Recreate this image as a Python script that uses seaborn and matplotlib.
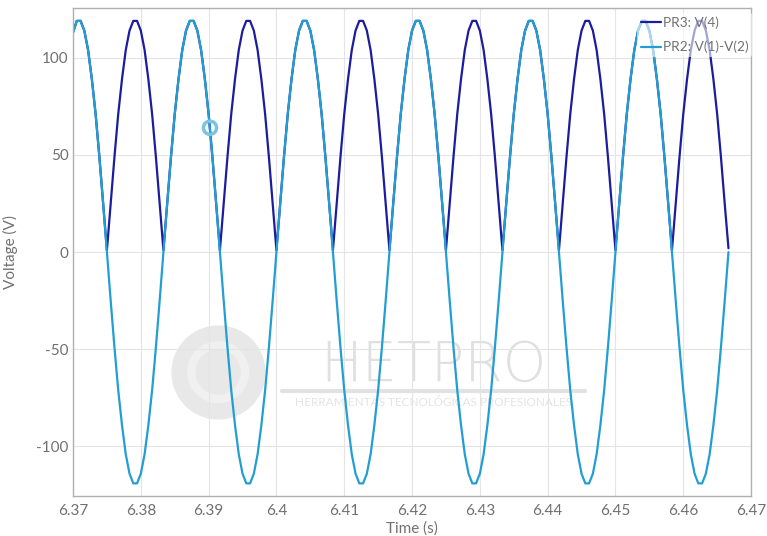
import matplotlib
matplotlib.use("Agg")
import matplotlib.pyplot as plt
import numpy as np
import seaborn as sns

# time span of the simulation window (s), samples evenly spaced
t_start = 6.37
t_end = 6.46667

# PR2: V(1)-V(2)  (source, volts)
v_source = [
    113, 119, 119, 114, 104, 89, 71, 49, 25,
    0, -25, -49, -71, -89, -104, -114, -119, -119, -114, -104, -89, -71, -49, -25,
    0, 25, 49, 71, 89, 104, 114, 119, 119, 114, 104, 89, 71, 49, 25,
    0, -25, -49, -71, -89, -104, -114, -119, -119, -114, -104, -89, -71, -49, -25,
    0, 25, 49, 71, 89, 104, 114, 119, 119, 114, 104, 89, 71, 49, 25,
    0, -25, -49, -71, -89, -104, -114, -119, -119, -114, -104, -89, -71, -49, -25,
    0, 25, 49, 71, 89, 104, 114, 119, 119, 114, 104, 89, 71, 49, 25,
    0, -25, -49, -71, -89, -104, -114, -119, -119, -114, -104, -89, -71, -49, -25,
    0, 25, 49, 71, 89, 104, 114, 119, 119, 114, 104, 89, 71, 49, 25,
    0, -25, -49, -71, -89, -104, -114, -119, -119, -114, -104, -89, -71, -49, -25,
    0, 25, 49, 71, 89, 104, 114, 119, 119, 114, 104, 89, 71, 49, 25,
    0, -25, -49, -71, -89, -104, -114, -119, -119, -114, -104, -89, -71, -49, -25,
    0,
]

# PR3: V(4)  (rectified output, volts)
v_out = [
    113, 119, 119, 114, 104, 89, 71, 49, 25,
    1, 25, 49, 71, 89, 104, 114, 119, 119, 114, 104, 89, 71, 49, 25,
    1, 25, 49, 71, 89, 104, 114, 119, 119, 114, 104, 89, 71, 49, 25,
    1, 25, 49, 71, 89, 104, 114, 119, 119, 114, 104, 89, 71, 49, 25,
    1, 25, 49, 71, 89, 104, 114, 119, 119, 114, 104, 89, 71, 49, 25,
    1, 25, 49, 71, 89, 104, 114, 119, 119, 114, 104, 89, 71, 49, 25,
    1, 25, 49, 71, 89, 104, 114, 119, 119, 114, 104, 89, 71, 49, 25,
    1, 25, 49, 71, 89, 104, 114, 119, 119, 114, 104, 89, 71, 49, 25,
    1, 25, 49, 71, 89, 104, 114, 119, 119, 114, 104, 89, 71, 49, 25,
    1, 25, 49, 71, 89, 104, 114, 119, 119, 114, 104, 89, 71, 49, 25,
    1, 25, 49, 71, 89, 104, 114, 119, 119, 114, 104, 89, 71, 49, 25,
    1, 25, 49, 71, 89, 104, 114, 119, 119, 114, 104, 89, 71, 49, 25,
    2,
]

# cursor marker
cursor_t = [6.3902]
cursor_v = [64]

x_ticks = [6.37, 6.38, 6.39, 6.40, 6.41, 6.42, 6.43, 6.44, 6.45, 6.46, 6.47]
x_labels = ["6.37", "6.38", "6.39", "6.4", "6.41", "6.42", "6.43", "6.44", "6.45", "6.46", "6.47"]
y_ticks = [-100, -50, 0, 50, 100]

time = np.linspace(t_start, t_end, len(v_source))

sns.set_style("whitegrid")
plt.rcParams['font.family'] = ['Lato', 'DejaVu Sans']
plt.rcParams['axes.unicode_minus'] = False

fig = plt.figure(figsize=(7.67, 5.36), dpi=100)
ax = fig.add_axes([0.0952, 0.0746, 0.884, 0.910])

dark = "#1c1c9e"
light = "#239ed3"
grey = "#707070"

# watermark (faint logo)
ax.scatter([0.214], [0.254], s=4600, color="#e4e4e4", alpha=0.85,
           transform=ax.transAxes, zorder=0, linewidths=0)
ax.scatter([0.214], [0.254], s=1500, facecolors="none", edgecolors="#f0f0f0",
           linewidths=6, transform=ax.transAxes, zorder=0)
ax.text(0.531, 0.236, "HETPRO", transform=ax.transAxes, fontsize=40,
        family="DejaVu Sans", fontweight="light",
        color="#e0e0e0", ha="center", va="baseline", zorder=0)
ax.plot([0.308, 0.755], [0.215, 0.215], transform=ax.transAxes,
        color="#e2e2e2", linewidth=3, zorder=0)
ax.text(0.531, 0.191, "HERRAMIENTAS TECNOLÓGICAS PROFESIONALES", transform=ax.transAxes,
        fontsize=8.5, color="#e4e4e4", ha="center", va="center", zorder=0)

sns.lineplot(x=time, y=v_out, ax=ax, color=dark, linewidth=1.6, label="PR3: V(4)")
sns.lineplot(x=time, y=v_source, ax=ax, color=light, linewidth=1.6, label="PR2: V(1)-V(2)")
ax.scatter(cursor_t, cursor_v, s=90, facecolors="none", edgecolors="#7cc3e2",
           linewidths=2.5, zorder=5)

ax.set_xlim(6.37, 6.47)
ax.set_ylim(-125.5, 125.5)
ax.set_xticks(x_ticks)
ax.set_xticklabels(x_labels)
ax.set_yticks(y_ticks)
ax.tick_params(colors=grey, labelsize=11, length=0)
ax.tick_params(axis="x", pad=6)
ax.tick_params(axis="y", pad=3)
ax.set_xlabel("Time (s)", color=grey, fontsize=11, labelpad=2)
ax.set_ylabel("Voltage (V)", color=grey, fontsize=11, labelpad=13)
ax.grid(color="#e4e4e4", linewidth=0.8)
for s in ax.spines.values():
    s.set_color("#b0b0b0")
    s.set_linewidth(1)

leg = ax.legend(loc="upper right", bbox_to_anchor=(1.012, 1.005), frameon=True,
                framealpha=0.6, edgecolor="none", fontsize=9.8, handlelength=1.45,
                handletextpad=0.15, labelspacing=0.85, borderpad=0.3)
for txt in leg.get_texts():
    txt.set_color(grey)

fig.savefig("out.png", dpi=100)
